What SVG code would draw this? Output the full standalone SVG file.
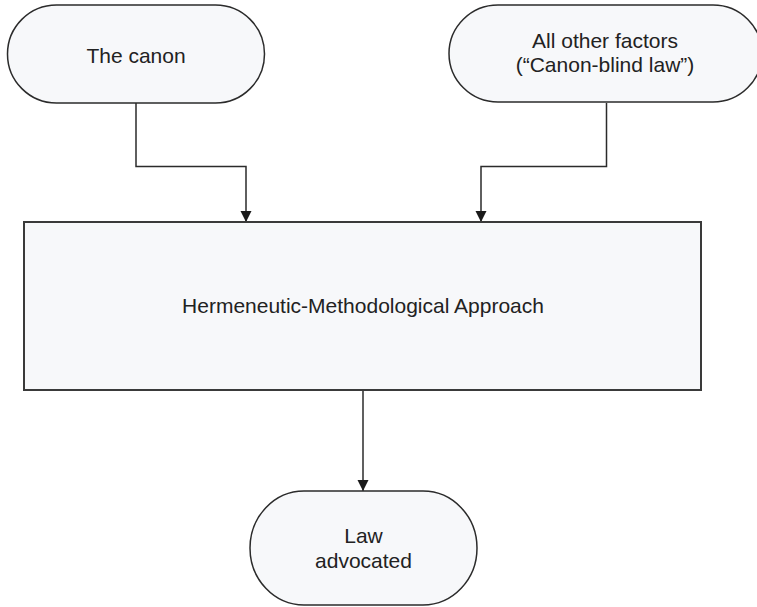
<svg xmlns="http://www.w3.org/2000/svg" width="757" height="607" viewBox="0 0 757 607">
  <defs>
    <marker id="arrow" markerUnits="userSpaceOnUse" markerWidth="12" markerHeight="12" viewBox="0 0 12 12" refX="11" refY="6" orient="auto">
      <path d="M0,0.5 L11,6 L0,11.5 Z" fill="#1a1a1a"/>
    </marker>
  </defs>
  <style>
    .node { fill: #f7f8fa; stroke: #2b2b2b; stroke-width: 1.5; }
    .box { fill: #f7f8fa; stroke: #3a3a3a; stroke-width: 2; }
    .label { font-family: "Liberation Sans", Arial, sans-serif; font-size: 21px; fill: #222; text-anchor: middle; }
    .edge { fill: none; stroke: #2b2b2b; stroke-width: 1.5; marker-end: url(#arrow); }
  </style>
  <rect width="757" height="607" fill="#ffffff"/>

  <g id="connectors">
    <path class="edge" d="M136,103 V166.5 H246 V222"/>
    <path class="edge" d="M606.5,103 V166.5 H481 V222"/>
    <path class="edge" d="M363,390 V491"/>
  </g>

  <g id="canon">
    <rect class="node" x="7.5" y="5" width="257" height="98" rx="49" ry="49"/>
    <text class="label" x="136" y="63">The canon</text>
  </g>

  <g id="other-factors">
    <rect class="node" x="449" y="5" width="313" height="97" rx="49" ry="48.5"/>
    <text class="label" x="605" y="48">All other factors</text>
    <text class="label" x="605" y="72">(“Canon-blind law”)</text>
  </g>

  <g id="approach">
    <rect class="box" x="24" y="222" width="677" height="168"/>
    <text class="label" x="363" y="313">Hermeneutic-Methodological Approach</text>
  </g>

  <g id="law-advocated">
    <rect class="node" x="250" y="491" width="227" height="114" rx="54" ry="57"/>
    <text class="label" x="363.5" y="543">Law</text>
    <text class="label" x="363.5" y="568">advocated</text>
  </g>
</svg>
